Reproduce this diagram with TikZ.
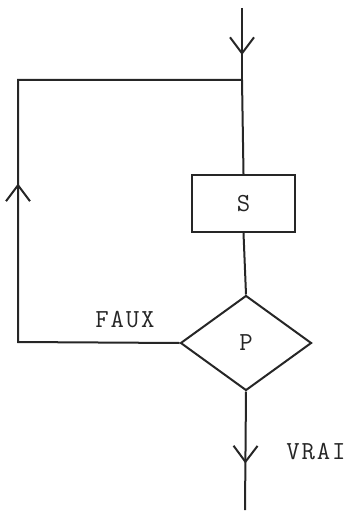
\documentclass[tikz,border=0pt]{standalone}
\usepackage{fontspec}
\newfontfamily\twfont{Latin Modern Mono}[LetterSpace=7]
\usetikzlibrary{shapes.geometric,arrows.meta,decorations.markings}
\definecolor{ink}{HTML}{262626}
\tikzset{
  wire/.style={draw=ink,line width=2pt},
  lbl/.style={text=ink,font=\twfont\fontsize{26}{30}\selectfont},
  box/.style={wire,rectangle,minimum width=103pt,minimum height=57pt,inner sep=0pt,lbl},
  dec/.style={wire,diamond,aspect=1.38,minimum width=131pt,minimum height=95pt,inner sep=0pt,lbl},
  barb/.tip={Straight Barb[length=16pt,width=24pt,line width=2pt]},
  midarrow/.style={postaction={decorate},decoration={markings,mark=at position #1 with {\arrow[ink]{barb}}}}
}
\begin{document}
\begin{tikzpicture}[x=1pt,y=-1pt]
\useasboundingbox (0,0) rectangle (350,516);
\coordinate (top) at (242,8);
\coordinate (J) at (242,80);
\coordinate (L1) at (18,80);
\coordinate (L2) at (18,342);
\coordinate (bot) at (245,510);
\node[box] (S) at (243.5,203.5) {S};
\node[dec] (P) at (246,343) {P};
\node[lbl] (faux) at (125,320) {FAUX};
\node[lbl] (vrai) at (316,452) {VRAI};
\draw[wire,midarrow=47pt] (top) -- (J);
\draw[wire] (J) -- (S.north);
\draw[wire] (S.south) -- (P.north);
\draw[wire,midarrow=320pt] (P.west) -- (L2) -- (L1) -- (J);
\draw[wire,midarrow=72pt] (P.south) -- (bot);
\end{tikzpicture}
\end{document}
